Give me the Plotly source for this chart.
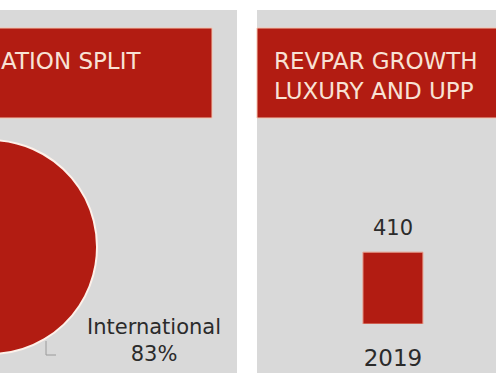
import plotly.graph_objects as go

# ---- data ----
pie_labels = ["International", "Domestic"]
pie_values = [83, 17]
bar_years = ["2019"]
bar_values = [410]
title_left = "ATION SPLIT"
title_right = ["REVPAR GROWTH", "LUXURY AND UPP"]

# ---- geometry helpers (page px -> paper) ----
S = 150            # hidden area to the left of the visible page
PW, H = 496, 380
W = PW + S
def px(x):
    return (x + S) / W
def py(y):
    return 1 - y / H

RED = "#b21c12"
GRAY = "#d9d9d9"
CREAM = "#f8e2d5"
TXT = "#2b2b2b"
FONT = "DejaVu Sans"

fig = go.Figure()

fig.add_trace(go.Pie(
    labels=pie_labels, values=pie_values, sort=False, direction="clockwise",
    rotation=0, textinfo="none", hoverinfo="label+percent",
    marker=dict(colors=[RED, RED], line=dict(color="#fdf1ea", width=2)),
    domain=dict(x=[px(-117), px(97)], y=[py(354), py(140)]),
    showlegend=False,
))

fig.add_trace(go.Bar(
    x=bar_years, y=bar_values, width=0.5,
    marker=dict(color=RED, line=dict(color="#e8a08f", width=1)),
    text=[str(v) for v in bar_values], textposition="none",
    xaxis="x", yaxis="y", showlegend=False,
))

shapes = [
    dict(type="rect", xref="paper", yref="paper", x0=0, x1=px(237), y0=py(373), y1=py(10),
         fillcolor=GRAY, line=dict(width=0), layer="below"),
    dict(type="rect", xref="paper", yref="paper", x0=px(257), x1=1, y0=py(373), y1=py(10),
         fillcolor=GRAY, line=dict(width=0), layer="below"),
    dict(type="rect", xref="paper", yref="paper", x0=0, x1=px(212), y0=py(118), y1=py(28),
         fillcolor=RED, line=dict(color="#f3c4b0", width=1), layer="below"),
    dict(type="rect", xref="paper", yref="paper", x0=px(257), x1=1.01, y0=py(118), y1=py(28),
         fillcolor=RED, line=dict(color="#f3c4b0", width=1), layer="below"),
    dict(type="path", xref="paper", yref="paper",
         path=f"M {px(46)} {py(341)} L {px(46)} {py(355)} L {px(56)} {py(355)}",
         line=dict(color="#9a9a9a", width=1)),
]

pct = round(100 * pie_values[0] / sum(pie_values))
annotations = [
    dict(xref="paper", yref="paper", x=px(-1), y=py(61), xanchor="left", yanchor="middle",
         text=title_left, showarrow=False, font=dict(family=FONT, size=23, color=CREAM)),
    dict(xref="paper", yref="paper", x=px(272), y=py(76), xanchor="left", yanchor="middle",
         text="<br>".join(title_right), align="left", showarrow=False,
         font=dict(family=FONT, size=23, color=CREAM)),
    dict(xref="paper", yref="paper", x=px(154), y=py(340), xanchor="center", yanchor="middle",
         text=f"{pie_labels[0]}<br>{pct}%", align="center", showarrow=False,
         font=dict(family=FONT, size=21, color=TXT)),
]
for i, v in enumerate(bar_values):
    annotations.append(dict(xref="x", yref="y", x=i, y=v, xanchor="center", yanchor="bottom",
                            yshift=10, text=str(v), showarrow=False,
                            font=dict(family=FONT, size=21, color=TXT)))

fig.update_layout(
    width=W, height=H, margin=dict(l=0, r=0, t=0, b=0),
    paper_bgcolor="white", plot_bgcolor="rgba(0,0,0,0)",
    shapes=shapes, annotations=annotations,
    xaxis=dict(domain=[px(257), 1], type="category", range=[-1.133, 0.859],
               showgrid=False, zeroline=False, showline=False,
               ticks="outside", ticklen=13, tickcolor="rgba(0,0,0,0)",
               tickfont=dict(family=FONT, size=23, color=TXT)),
    yaxis=dict(domain=[py(324), py(140)], range=[0, 1050], visible=False),
    font=dict(family=FONT),
)

post = ("var gd=document.getElementById('{plot_id}');"
        "gd.style.marginLeft='-%dpx';"
        "document.body.style.margin='0';document.body.style.overflow='hidden';" % S)
fig.write_html("out.html", config={"displayModeBar": False}, post_script=post)
